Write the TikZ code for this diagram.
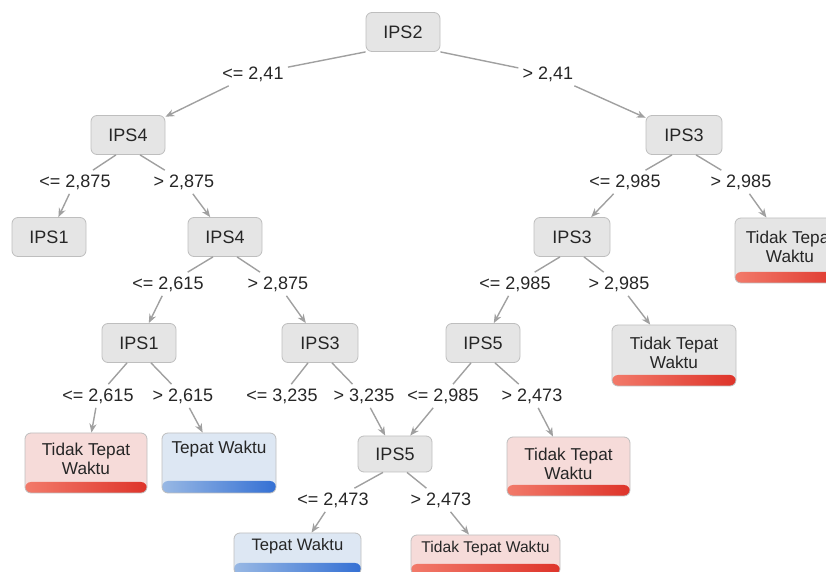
\documentclass[tikz,border=0pt]{standalone}
\usepackage{fontspec}
\setmainfont{Liberation Sans}
\usetikzlibrary{arrows.meta}
\definecolor{boxgray}{RGB}{229,229,229}
\definecolor{boxline}{RGB}{190,190,190}
\definecolor{linkgray}{RGB}{160,160,160}
\definecolor{pinkfill}{RGB}{246,219,217}
\definecolor{bluefill}{RGB}{221,231,243}
\definecolor{redA}{RGB}{242,122,106}
\definecolor{redB}{RGB}{222,52,42}
\definecolor{blueA}{RGB}{152,184,228}
\definecolor{blueB}{RGB}{52,112,212}
\definecolor{textdark}{RGB}{38,38,38}
\begin{document}
\begin{tikzpicture}[x=0.5pt,y=-0.5pt,
  every node/.style={text=textdark},
  split/.style={draw=boxline,fill=boxgray,rounded corners=3pt,minimum width=37pt,minimum height=19.5pt,inner sep=0pt,font=\fontsize{9}{11}\selectfont},
  leaf/.style={draw=boxline,rounded corners=3pt,inner sep=0pt},
  redbar/.style={path picture={\fill[left color=redA,right color=redB] (path picture bounding box.south west) rectangle ([yshift=5.5pt]path picture bounding box.south east);}},
  bluebar/.style={path picture={\fill[left color=blueA,right color=blueB] (path picture bounding box.south west) rectangle ([yshift=6pt]path picture bounding box.south east);}},
  leaftext/.style={align=center,inner sep=0pt,font=\fontsize{8.6}{9.5}\selectfont},
  cond/.style={inner sep=2pt,font=\fontsize{9}{11}\selectfont},
  link/.style={draw=linkgray,line width=0.7pt},
  arrowlink/.style={link,-{Stealth[length=4.5pt,width=3.6pt]}}]
\useasboundingbox (0,0) rectangle (826,572);
\clip (0,0) rectangle (826,572);

\node[split] (ips2) at (403,32) {IPS2};
\node[split] (ips4a) at (128,135) {IPS4};
\node[split,minimum width=38pt] (ips3a) at (684,135) {IPS3};
\node[split] (ips1a) at (49,237) {IPS1};
\node[split] (ips4b) at (225,237) {IPS4};
\node[split,minimum width=38pt] (ips3b) at (572,237) {IPS3};
\node[split] (ips1b) at (139,343) {IPS1};
\node[split,minimum width=38pt] (ips3c) at (320,343) {IPS3};
\node[split] (ips5a) at (483,343) {IPS5};
\node[split,minimum height=18pt] (ips5b) at (395,454) {IPS5};

\node[leaf,fill=boxgray,redbar,minimum width=55pt,minimum height=32.5pt] (leafr1) at (790,250.5) {};
\node[leaf,fill=boxgray,redbar,minimum width=62pt,minimum height=30.5pt] (leafr2) at (674,355.5) {};
\node[leaf,fill=pinkfill,redbar,minimum width=61pt,minimum height=30pt] (leafp1) at (86,463) {};
\node[leaf,fill=bluefill,bluebar,minimum width=57pt,minimum height=30pt] (leafb1) at (219,463) {};
\node[leaf,fill=pinkfill,redbar,minimum width=61.5pt,minimum height=29.5pt] (leafp2) at (568.5,466.5) {};
\node[leaf,fill=bluefill,bluebar,minimum width=63.5pt,minimum height=21pt] (leafb2) at (297.5,554) {};
\node[leaf,fill=pinkfill,redbar,minimum width=74.5pt,minimum height=20pt] (leafp3) at (485.5,555) {};

\node[leaftext] (leafr1txt) at (790,247) {Tidak Tepat\\Waktu};
\node[leaftext] (leafr2txt) at (674,352.5) {Tidak Tepat\\Waktu};
\node[leaftext] (leafp1txt) at (86,458.5) {Tidak Tepat\\Waktu};
\node[leaftext] (leafb1txt) at (219,449) {Tepat Waktu};
\node[leaftext] (leafp2txt) at (568.5,463.5) {Tidak Tepat\\Waktu};
\node[leaftext,font=\fontsize{8.3}{9.5}\selectfont] (leafb2txt) at (297.5,546) {Tepat Waktu};
\node[leaftext,font=\fontsize{7.8}{9}\selectfont] (leafp3txt) at (485.5,548) {Tidak Tepat Waktu};

\node[cond] (c1) at (253,74) {<= 2,41};
\node[cond] (c2) at (548,74) {> 2,41};
\node[cond] (c3) at (75,182) {<= 2,875};
\node[cond] (c4) at (184,182) {> 2,875};
\node[cond] (c5) at (625,182) {<= 2,985};
\node[cond] (c6) at (741,182) {> 2,985};
\node[cond] (c7) at (168,284) {<= 2,615};
\node[cond] (c8) at (278,284) {> 2,875};
\node[cond] (c9) at (515,284) {<= 2,985};
\node[cond] (c10) at (619,284) {> 2,985};
\node[cond] (c11) at (98,396) {<= 2,615};
\node[cond] (c12) at (183,396) {> 2,615};
\node[cond] (c13) at (282,396) {<= 3,235};
\node[cond] (c14) at (364,396) {> 3,235};
\node[cond] (c15) at (443,396) {<= 2,985};
\node[cond] (c16) at (532,396) {> 2,473};
\node[cond] (c17) at (333,500) {<= 2,473};
\node[cond] (c18) at (441,500) {> 2,473};

\draw[link] (ips2.south west) -- (c1);
\draw[arrowlink] (c1) -- (ips4a);
\draw[link] (ips2.south east) -- (c2);
\draw[arrowlink] (c2) -- (ips3a);
\draw[link] ([xshift=-6pt]ips4a.south) -- (c3);
\draw[arrowlink] (c3) -- (ips1a);
\draw[link] ([xshift=6pt]ips4a.south) -- (c4);
\draw[arrowlink] (c4) -- (ips4b);
\draw[link] ([xshift=-6pt]ips3a.south) -- (c5);
\draw[arrowlink] (c5) -- (ips3b);
\draw[link] ([xshift=6pt]ips3a.south) -- (c6);
\draw[arrowlink] (c6) -- (leafr1);
\draw[link] ([xshift=-6pt]ips4b.south) -- (c7);
\draw[arrowlink] (c7) -- (ips1b);
\draw[link] ([xshift=6pt]ips4b.south) -- (c8);
\draw[arrowlink] (c8) -- (ips3c);
\draw[link] ([xshift=-6pt]ips3b.south) -- (c9);
\draw[arrowlink] (c9) -- (ips5a);
\draw[link] ([xshift=6pt]ips3b.south) -- (c10);
\draw[arrowlink] (c10) -- (leafr2);
\draw[link] ([xshift=-6pt]ips1b.south) -- (c11);
\draw[arrowlink] (c11) -- (leafp1);
\draw[link] ([xshift=6pt]ips1b.south) -- (c12);
\draw[arrowlink] (c12) -- (leafb1);
\draw[link] ([xshift=-6pt]ips3c.south) -- (c13);
\draw[link] ([xshift=6pt]ips3c.south) -- (c14);
\draw[arrowlink] (c14) -- (ips5b);
\draw[link] ([xshift=-6pt]ips5a.south) -- (c15);
\draw[arrowlink] (c15) -- (ips5b);
\draw[link] ([xshift=6pt]ips5a.south) -- (c16);
\draw[arrowlink] (c16) -- (leafp2);
\draw[link] ([xshift=-6pt]ips5b.south) -- (c17);
\draw[arrowlink] (c17) -- (leafb2);
\draw[link] ([xshift=6pt]ips5b.south) -- (c18);
\draw[arrowlink] (c18) -- (leafp3);
\end{tikzpicture}
\end{document}
